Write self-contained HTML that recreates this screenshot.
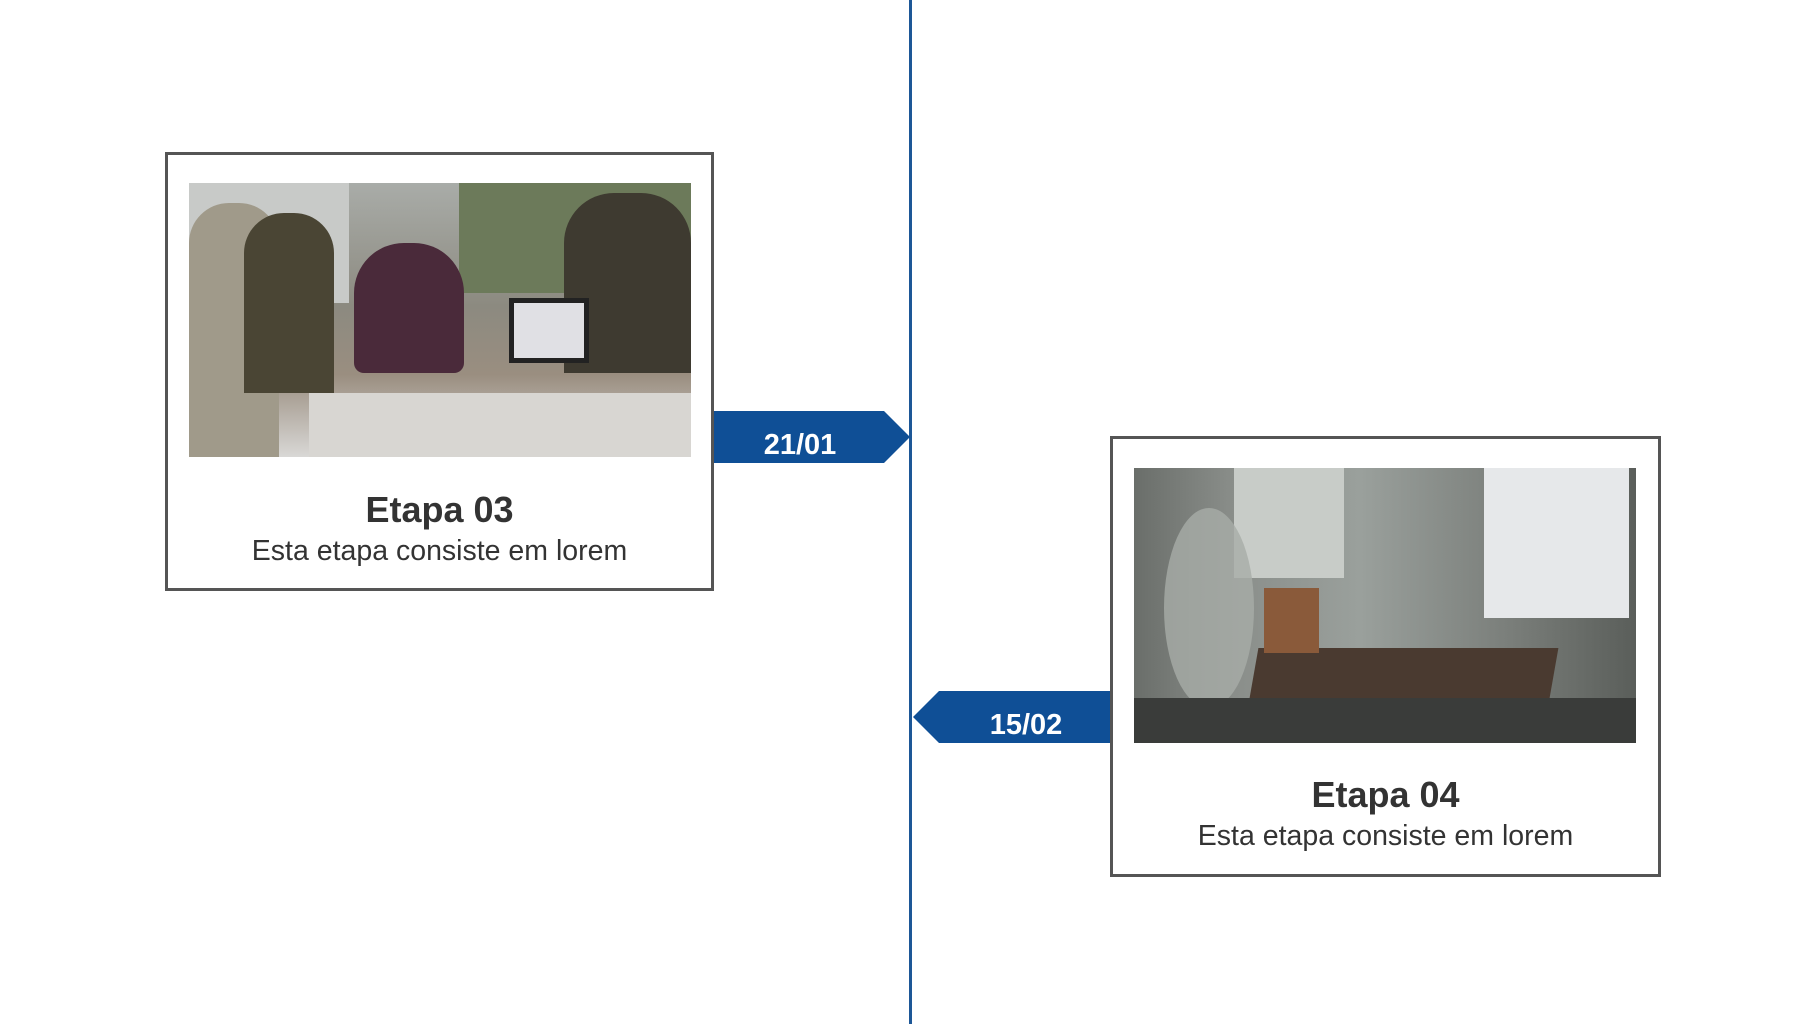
<!DOCTYPE html>
<html><head><meta charset="utf-8"><style>
body{margin:0;width:1820px;height:1024px;background:#fff;position:relative;overflow:hidden;font-family:"Liberation Sans",sans-serif}
.line{position:absolute;left:909px;top:0;width:3px;height:1024px;background:#1d5797}
.box{position:absolute;border:3px solid #555;box-sizing:border-box;background:#fff}
.img{position:absolute;overflow:hidden}
.t{position:absolute;width:100%;text-align:center;color:#333}
.h{font-weight:bold;font-size:36px}
.s{font-size:28.5px}
</style></head><body>
<div class="line"></div>

<div class="box" style="left:165px;top:152px;width:549px;height:439px">
  <div class="t h" style="top:334px">Etapa 03</div>
  <div class="t s" style="top:380px">Esta etapa consiste em lorem</div>
</div>
<div class="img" style="left:189px;top:183px;width:502px;height:274px;background:linear-gradient(180deg,#a9aca8 0%,#8c8a80 45%,#9a8e80 70%,#d9d8d6 100%)">
  <div style="position:absolute;left:0;top:0;width:160px;height:120px;background:#c8cac8"></div>
  <div style="position:absolute;left:270px;top:0;width:232px;height:110px;background:#6c7a5a"></div>
  <div style="position:absolute;left:0;top:20px;width:90px;height:254px;background:#a09a8a;border-radius:40px 40px 0 0"></div>
  <div style="position:absolute;left:55px;top:30px;width:90px;height:180px;background:#4a4534;border-radius:40px 40px 0 0"></div>
  <div style="position:absolute;left:165px;top:60px;width:110px;height:130px;background:#4a2a3a;border-radius:50px 50px 10px 10px"></div>
  <div style="position:absolute;left:375px;top:10px;width:127px;height:180px;background:#3e3a30;border-radius:50px 50px 0 0"></div>
  <div style="position:absolute;left:320px;top:115px;width:70px;height:55px;background:#e0e0e4;border:5px solid #222"></div>
  <div style="position:absolute;left:120px;top:210px;width:382px;height:64px;background:#d8d6d2"></div>
</div>
<svg style="position:absolute;left:0;top:0" width="1820" height="1024">
  <polygon points="714,411 884,411 910,437 884,463 714,463" fill="#0f4f96"/>
  <polygon points="1110,691 939,691 913,717 939,743 1110,743" fill="#0f4f96"/>
  <text x="800" y="454" text-anchor="middle" font-family="Liberation Sans" font-weight="bold" font-size="29" fill="#fff">21/01</text>
  <text x="1026" y="734" text-anchor="middle" font-family="Liberation Sans" font-weight="bold" font-size="29" fill="#fff">15/02</text>
</svg>

<div class="box" style="left:1110px;top:436px;width:551px;height:441px">
  <div class="t h" style="top:335px">Etapa 04</div>
  <div class="t s" style="top:381px">Esta etapa consiste em lorem</div>
</div>
<div class="img" style="left:1134px;top:468px;width:502px;height:275px;background:linear-gradient(90deg,#6a6e6a 0%,#8a8e8a 20%,#9aa09c 45%,#7a7e7a 75%,#5a5e5a 100%)">
  <div style="position:absolute;left:100px;top:0;width:110px;height:110px;background:#c8ccc8"></div>
  <div style="position:absolute;left:350px;top:0;width:145px;height:150px;background:#e6e8ea"></div>
  <div style="position:absolute;left:30px;top:40px;width:90px;height:200px;background:#a8aca8;border-radius:50%;opacity:.8"></div>
  <div style="position:absolute;left:120px;top:180px;width:300px;height:50px;background:#4a3a30;transform:skewX(-10deg)"></div>
  <div style="position:absolute;left:130px;top:120px;width:55px;height:65px;background:#8a5a3a"></div>
  <div style="position:absolute;left:0;top:230px;width:502px;height:45px;background:#3a3c3a"></div>
</div>
</body></html>
